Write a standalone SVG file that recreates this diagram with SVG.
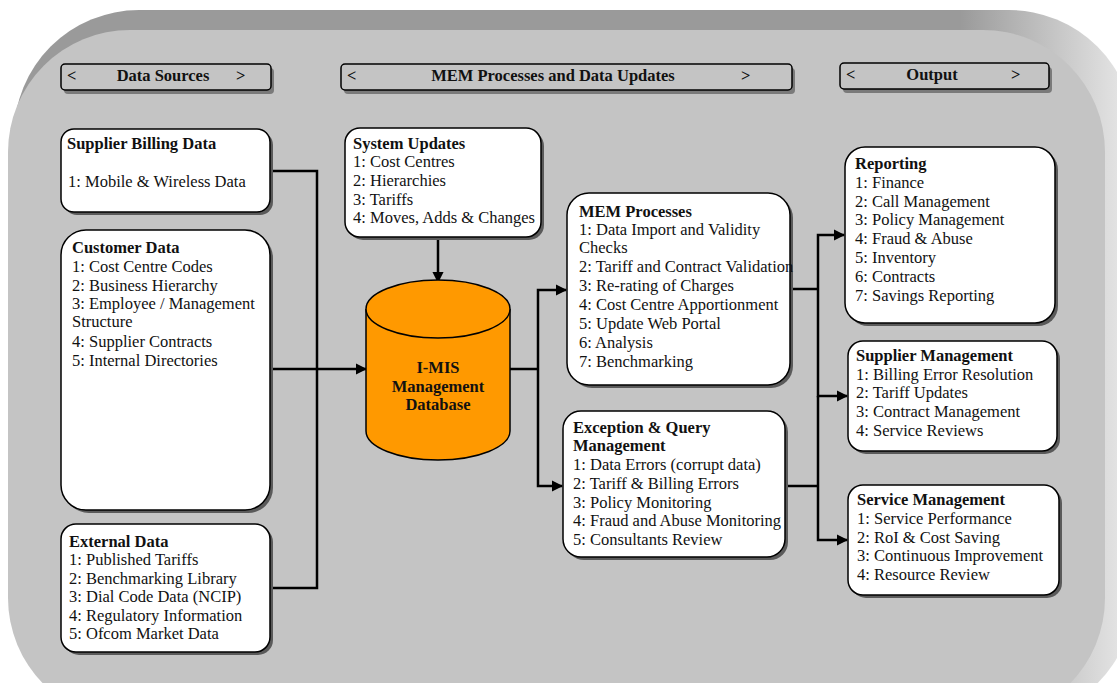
<svg xmlns="http://www.w3.org/2000/svg" width="1117" height="683" viewBox="0 0 1117 683">
<defs>
<linearGradient id="bevel" gradientUnits="userSpaceOnUse" x1="960" y1="0" x2="1117" y2="0">
<stop offset="0" stop-color="#9a9a9a"/>
<stop offset="1" stop-color="#e2e2e2"/>
</linearGradient>
<marker id="arr" viewBox="0 0 10 10" refX="9" refY="5" markerWidth="4.5" markerHeight="4.5" orient="auto" markerUnits="strokeWidth">
<path d="M0,0 L10,5 L0,10 z" fill="#000"/>
</marker>
</defs>
<style>
text{font-family:"Liberation Serif","Times New Roman",serif;font-size:16.5px;fill:#111}
.b{font-weight:bold}
.box{fill:#fff;stroke:#000;stroke-width:1.5}
.sh{fill:#5a5a5a}
.hdr{fill:#c4c4c4;stroke:#000;stroke-width:1.5}
.hsh{fill:#7a7a7a}
.ln{fill:none;stroke:#000;stroke-width:2.5}
.ar{marker-end:url(#arr)}
</style>
<rect width="1117" height="683" fill="#fff"/>
<g id="background">
<rect x="14" y="10" width="1120" height="710" rx="125" fill="url(#bevel)"/>
<rect x="8" y="30" width="1097" height="690" rx="122" fill="#c4c4c4"/>
</g>
<g id="hdr-sources">
<rect class="hsh" x="64" y="68" width="210" height="26" rx="4"/>
<rect class="hdr" x="61" y="64" width="210" height="26" rx="4"/>
<text class="b" x="67" y="81">&lt;</text>
<text class="b" x="163" y="81" text-anchor="middle">Data Sources</text>
<text class="b" x="236" y="81">&gt;</text>
</g>
<g id="hdr-mem">
<rect class="hsh" x="344" y="68" width="451" height="26" rx="4"/>
<rect class="hdr" x="341" y="64" width="451" height="26" rx="4"/>
<text class="b" x="347" y="81">&lt;</text>
<text class="b" x="553" y="81" text-anchor="middle">MEM Processes and Data Updates</text>
<text class="b" x="741" y="81">&gt;</text>
</g>
<g id="hdr-output">
<rect class="hsh" x="843" y="67" width="209" height="26" rx="4"/>
<rect class="hdr" x="840" y="63" width="209" height="26" rx="4"/>
<text class="b" x="846" y="80">&lt;</text>
<text class="b" x="932" y="80" text-anchor="middle">Output</text>
<text class="b" x="1011" y="80">&gt;</text>
</g>
<g id="connectors">
<path class="ln" d="M270,171 H317 V588 H270"/>
<path class="ln ar" d="M270,369 H366"/>
<path class="ln ar" d="M438,237 V282"/>
<path class="ln" d="M510,369 H538"/>
<path class="ln ar" d="M538,369 V290 H566"/>
<path class="ln ar" d="M538,369 V486 H562"/>
<path class="ln" d="M790,289 H818"/>
<path class="ln" d="M785,486 H818"/>
<path class="ln ar" d="M818,289 V235 H844"/>
<path class="ln ar" d="M818,289 V396 H847"/>
<path class="ln ar" d="M818,396 V540 H847"/>
</g>
<g id="supplier-billing">
<rect class="sh" x="64" y="132" width="209" height="83" rx="13"/>
<rect class="box" x="61" y="129" width="209" height="83" rx="13"/>
<text class="b" x="67" y="149">Supplier Billing Data</text>
<text x="68" y="187">1: Mobile &amp; Wireless Data</text>
</g>
<g id="customer-data">
<rect class="sh" x="64" y="233" width="209" height="280" rx="25"/>
<rect class="box" x="61" y="230" width="209" height="280" rx="25"/>
<text class="b" x="72" y="253">Customer Data</text>
<text x="72" y="272">1: Cost Centre Codes</text>
<text x="72" y="291">2: Business Hierarchy</text>
<text x="72" y="309">3: Employee / Management</text>
<text x="72" y="327">Structure</text>
<text x="72" y="347">4: Supplier Contracts</text>
<text x="72" y="366">5: Internal Directories</text>
</g>
<g id="external-data">
<rect class="sh" x="64" y="527" width="209" height="128" rx="15"/>
<rect class="box" x="61" y="524" width="209" height="128" rx="15"/>
<text class="b" x="69" y="547">External Data</text>
<text x="69" y="565">1: Published Tariffs</text>
<text x="69" y="584">2: Benchmarking Library</text>
<text x="69" y="602">3: Dial Code Data (NCIP)</text>
<text x="69" y="621">4: Regulatory Information</text>
<text x="69" y="639">5: Ofcom Market Data</text>
</g>
<g id="system-updates">
<rect class="sh" x="348" y="131" width="196" height="109" rx="15"/>
<rect class="box" x="345" y="128" width="196" height="109" rx="15"/>
<text class="b" x="353" y="149">System Updates</text>
<text x="353" y="167">1: Cost Centres</text>
<text x="353" y="186">2: Hierarchies</text>
<text x="353" y="205">3: Tariffs</text>
<text x="353" y="223">4: Moves, Adds &amp; Changes</text>
</g>
<g id="database">
<path d="M366,309 V431 A72,29 0 0 0 510,431 V309" fill="#ff9900" stroke="#000" stroke-width="1.5"/>
<ellipse cx="438" cy="309" rx="72" ry="29" fill="#ff9900" stroke="#000" stroke-width="1.5"/>
<text class="b" x="438" y="373" text-anchor="middle">I-MIS</text>
<text class="b" x="438" y="392" text-anchor="middle">Management</text>
<text class="b" x="438" y="410" text-anchor="middle">Database</text>
</g>
<g id="mem-processes">
<rect class="sh" x="570" y="196" width="223" height="192" rx="22"/>
<rect class="box" x="567" y="193" width="223" height="192" rx="22"/>
<text class="b" x="579" y="217">MEM Processes</text>
<text x="579" y="235">1: Data Import and Validity</text>
<text x="579" y="253">Checks</text>
<text x="579" y="272">2: Tariff and Contract Validation</text>
<text x="579" y="291">3: Re-rating of Charges</text>
<text x="579" y="310">4: Cost Centre Apportionment</text>
<text x="579" y="329">5: Update Web Portal</text>
<text x="579" y="348">6: Analysis</text>
<text x="579" y="367">7: Benchmarking</text>
</g>
<g id="exception-query">
<rect class="sh" x="566" y="414" width="222" height="146" rx="18"/>
<rect class="box" x="563" y="411" width="222" height="146" rx="18"/>
<text class="b" x="573" y="433">Exception &amp; Query</text>
<text class="b" x="573" y="451">Management</text>
<text x="573" y="470">1: Data Errors (corrupt data)</text>
<text x="573" y="489">2: Tariff &amp; Billing Errors</text>
<text x="573" y="508">3: Policy Monitoring</text>
<text x="573" y="526">4: Fraud and Abuse Monitoring</text>
<text x="573" y="545">5: Consultants Review</text>
</g>
<g id="reporting">
<rect class="sh" x="848" y="150" width="210" height="176" rx="20"/>
<rect class="box" x="845" y="147" width="210" height="176" rx="20"/>
<text class="b" x="855" y="169">Reporting</text>
<text x="855" y="188">1: Finance</text>
<text x="855" y="207">2: Call Management</text>
<text x="855" y="225">3: Policy Management</text>
<text x="855" y="244">4: Fraud &amp; Abuse</text>
<text x="855" y="263">5: Inventory</text>
<text x="855" y="282">6: Contracts</text>
<text x="855" y="301">7: Savings Reporting</text>
</g>
<g id="supplier-management">
<rect class="sh" x="851" y="344" width="209" height="110" rx="15"/>
<rect class="box" x="848" y="341" width="209" height="110" rx="15"/>
<text class="b" x="856" y="361">Supplier Management</text>
<text x="856" y="380">1: Billing Error Resolution</text>
<text x="856" y="398">2: Tariff Updates</text>
<text x="856" y="417">3: Contract Management</text>
<text x="856" y="436">4: Service Reviews</text>
</g>
<g id="service-management">
<rect class="sh" x="851" y="488" width="211" height="110" rx="15"/>
<rect class="box" x="848" y="485" width="211" height="110" rx="15"/>
<text class="b" x="857" y="505">Service Management</text>
<text x="857" y="524">1: Service Performance</text>
<text x="857" y="543">2: RoI &amp; Cost Saving</text>
<text x="857" y="561">3: Continuous Improvement</text>
<text x="857" y="580">4: Resource Review</text>
</g>
</svg>
